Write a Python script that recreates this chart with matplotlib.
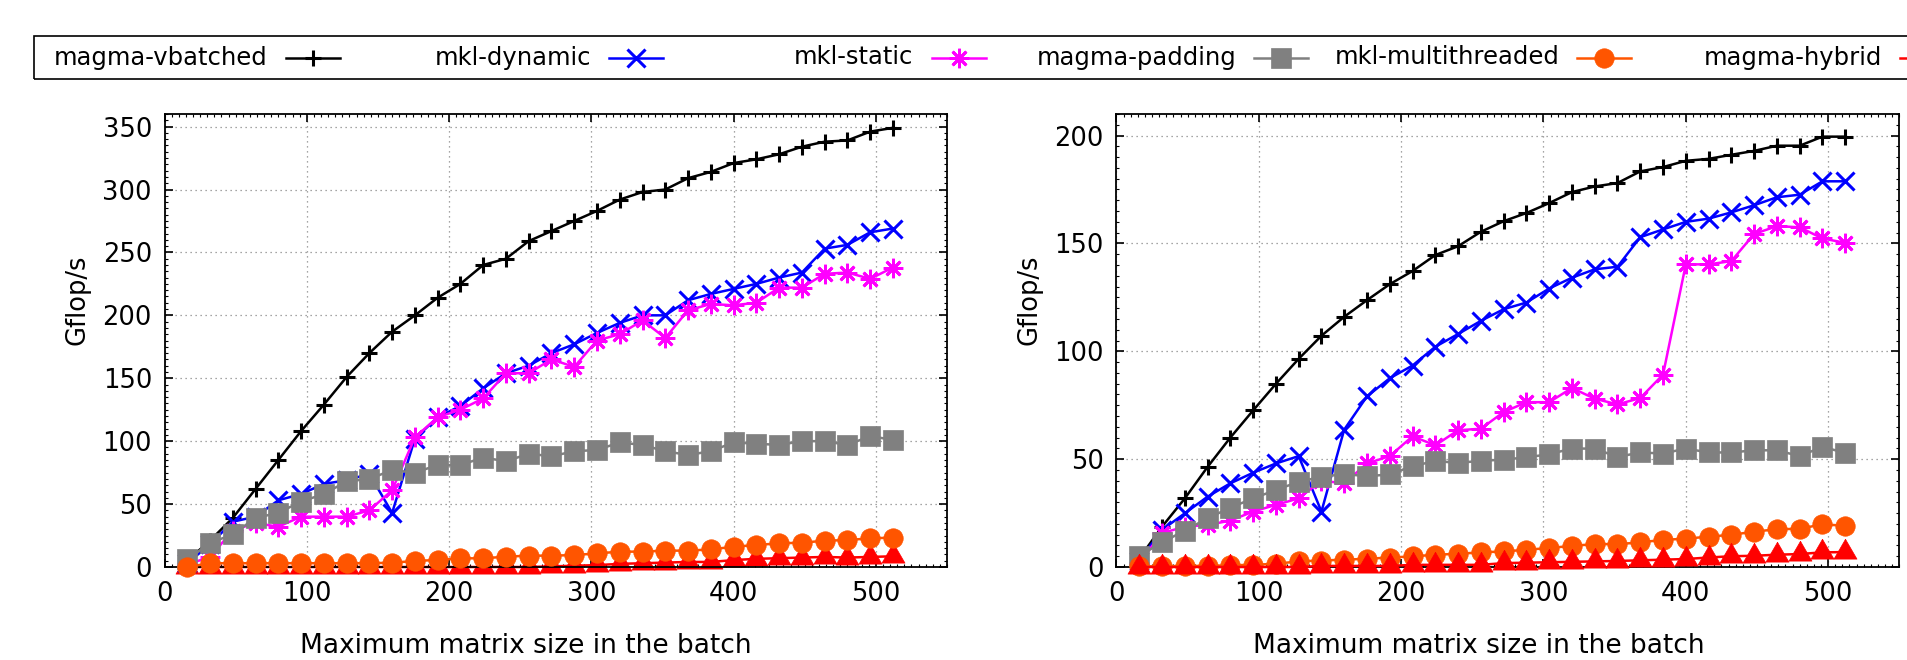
import matplotlib
matplotlib.use("Agg")
import matplotlib.pyplot as plt
from matplotlib.lines import Line2D
from matplotlib.patches import Rectangle
from matplotlib.ticker import MultipleLocator

plt.rcParams["font.family"] = ["DejaVu Sans"]

# batch max matrix size (x axis)
sizes = [16, 32, 48, 64, 80, 96, 112, 128, 144, 160, 176, 192, 208, 224, 240, 256,
         272, 288, 304, 320, 336, 352, 368, 384, 400, 416, 432, 448, 464, 480, 496, 512]

series_names = ["magma-vbatched", "mkl-dynamic", "mkl-static",
                "magma-padding", "mkl-multithreaded", "magma-hybrid"]

# left panel (Gflop/s)
left_vbatched = [5, 21, 39, 62, 85, 108, 129, 151, 170, 187, 200, 214, 225, 240, 245, 259,
                 267, 275, 283, 292, 298, 300, 309, 314, 321, 324, 328, 334, 338, 339, 346, 349]
left_dynamic = [3, 18, 36, 40, 53, 58, 66, 69, 74, 43, 102, 119, 128, 142, 154, 160,
                170, 177, 186, 194, 200, 200, 212, 217, 221, 225, 230, 234, 253, 256, 266, 269]
left_static = [2, 8, 29, 35, 32, 40, 40, 40, 45, 61, 103, 119, 125, 134, 154, 154,
               165, 159, 180, 185, 196, 182, 204, 209, 208, 210, 222, 222, 233, 234, 229, 238]
left_padding = [6, 19, 26, 39, 43, 52, 58, 68, 70, 77, 75, 81, 81, 87, 84, 90,
                88, 92, 93, 99, 97, 92, 89, 92, 99, 98, 97, 100, 100, 97, 104, 101]
left_multi = [0, 3, 3, 3, 3, 3, 3, 3, 3, 3.4, 4.8, 5.6, 6.9, 6.9, 8.2, 9,
              9, 9.5, 10.8, 12.2, 12.2, 13, 13, 14, 16.1, 17.5, 18.8, 19.3, 20.9, 21.4, 22.8, 23.3]
left_hybrid = [0, 0, 0, 0, 0, 0, 0, 0, 0, 0, 0, 0, 0, 0, 0, 0,
               0.5, 1, 1.5, 2.5, 3, 3.5, 4, 4, 5.5, 6.5, 7, 7.5, 8, 7.5, 8, 8.5]

# right panel (Gflop/s)
right_vbatched = [4, 18.7, 31.8, 46.4, 60, 72.6, 84.9, 96.5, 107.2, 116, 123.7, 131.1, 137.2, 144.6, 148.7, 155.4,
                  160.3, 164.1, 168.7, 173.8, 176.4, 178, 183.4, 185.4, 188.3, 189.2, 191.1, 192.9, 195.3, 195.3, 199.5, 199.5]
right_dynamic = [3, 17.2, 24.9, 32.6, 38.8, 43.7, 48, 51.4, 25.7, 63.7, 79.1, 87.5, 93.4, 102.1, 108, 114.1,
                 119.5, 122.6, 129.1, 134.1, 138, 139.2, 152.9, 156.5, 160, 161.5, 164.4, 167.7, 171.4, 172.6, 178.8, 178.8]
right_static = [2, 15.7, 18.7, 19.5, 21.5, 25.7, 28.8, 31.8, 40, 38.8, 48, 51.4, 60.6, 56.4, 63.4, 64.1,
                71.8, 76.4, 76.4, 83, 78, 75.4, 78.3, 89.2, 140.3, 140.3, 141.8, 154.4, 158, 157.5, 152.3, 150.3]
right_padding = [5.2, 11.4, 16.9, 22.6, 27.5, 31.8, 35.7, 39.5, 41.8, 43.1, 42.1, 42.9, 46.8, 49.1, 48.3, 49.2,
                 49.8, 50.8, 52.3, 54.9, 54.9, 51, 53.1, 52.6, 54.9, 53.1, 53.1, 54.1, 54.1, 51.4, 55.7, 52.9]
right_multi = [0.3, 0.3, 0.5, 0.5, 0.8, 1, 1.5, 2.6, 3, 3.4, 3.8, 4.4, 4.9, 5.7, 6.1, 6.8,
               7.2, 8, 8.8, 9.8, 10.6, 10.6, 11.4, 12.6, 13.1, 14.1, 14.9, 16.4, 17.5, 17.7, 19.8, 19.1]
right_hybrid = [0, 0, 0, 0, 0, 0, 0, 0, 0.5, 0.5, 0.5, 0.5, 1, 1, 1, 1,
                1.8, 2, 2.2, 2.4, 2.6, 2.8, 3.1, 3.4, 3.7, 4.4, 5, 5.2, 5.7, 6, 6.8, 6.9]

W, H = 1908, 660

# gnuplot-like triangle, centred on its centroid
tri = [(0, 1.0), (-0.87, -0.5), (0.87, -0.5), (0, 1.0)]

styles = [
    dict(color="black", marker="+", ms=12, mew=2.2),
    dict(color="#0000ff", marker="x", ms=13, mew=2.2),
    dict(color="#ff00ff", marker=(8, 2, 0), ms=14, mew=2.0),
    dict(color="#808080", marker="s", ms=14.5, mew=0.5),
    dict(color="#ff5500", marker="o", ms=14, mew=0.5),
    dict(color="#ff0000", marker=tri, ms=19, mew=0.5),
]


def fx(px):
    return px / W


def fy(py):
    return 1 - py / H


def draw_panel(ax, data, ymax, ystep, hybrid_on_top):
    for k, (vals, st) in enumerate(zip(data, styles)):
        z = 3 + k
        if k == 5 and not hybrid_on_top:
            z = 2.5
        ax.plot(sizes, vals, color=st["color"], lw=1.8, marker=st["marker"],
                ms=st["ms"], mew=st["mew"], mec=st["color"], mfc=st["color"],
                clip_on=False, zorder=z)

    ax.set_xlim(0, 550)
    ax.set_ylim(0, ymax)
    ax.xaxis.set_major_locator(MultipleLocator(100))
    ax.yaxis.set_major_locator(MultipleLocator(ystep))
    ax.xaxis.set_minor_locator(MultipleLocator(5))
    ax.yaxis.set_minor_locator(MultipleLocator(5))
    ax.tick_params(which="both", direction="in", top=True, right=True, width=1.2)
    ax.tick_params(which="major", length=5.5, labelsize=18.5)
    ax.tick_params(which="minor", length=2.2, width=0.8)
    ax.tick_params(axis="y", pad=9)
    ax.tick_params(axis="x", pad=10)
    ax.grid(True, which="major", color="#888888", linestyle=(0, (1, 3)), linewidth=0.9)
    ax.set_axisbelow(True)
    for sp in ax.spines.values():
        sp.set_linewidth(1.3)


fig = plt.figure(figsize=(W / 100, H / 100), dpi=100)

ax1 = fig.add_axes([fx(164.5), fy(567), fx(947) - fx(164.5), fy(114) - fy(567)])
ax2 = fig.add_axes([fx(1116.5), fy(567), fx(1899.3) - fx(1116.5), fy(114) - fy(567)])

draw_panel(ax1, [left_vbatched, left_dynamic, left_static, left_padding, left_multi, left_hybrid],
           360, 50, hybrid_on_top=False)
draw_panel(ax2, [right_vbatched, right_dynamic, right_static, right_padding, right_multi, right_hybrid],
           210, 50, hybrid_on_top=True)

# axis titles
fig.text(fx(77.5), fy(300), "Gflop/s", rotation=90, ha="center", va="center", fontsize=18.5)
fig.text(fx(1030), fy(300), "Gflop/s", rotation=90, ha="center", va="center", fontsize=18.5)
fig.text(fx(526), fy(659), "Maximum matrix size in the batch", ha="center", va="bottom", fontsize=19)
fig.text(fx(1479), fy(659), "Maximum matrix size in the batch", ha="center", va="bottom", fontsize=19)

# key box along the top, gnuplot style (text then sample)
fig.add_artist(Rectangle((fx(34), fy(79)), fx(1920) - fx(34), fy(36) - fy(79),
                         transform=fig.transFigure, fill=False, edgecolor="black", lw=1.2))
for i, (name, st) in enumerate(zip(series_names, styles)):
    right_edge = 268 + 322.8 * i
    cx = right_edge + 45
    fig.text(fx(right_edge), fy(57.5), name, ha="right", va="center", fontsize=17.5)
    fig.add_artist(Line2D([fx(cx - 27), fx(cx + 27)], [fy(57.5), fy(57.5)],
                          transform=fig.transFigure, color=st["color"], lw=1.8))
    fig.add_artist(Line2D([fx(cx)], [fy(57.5)], transform=fig.transFigure,
                          color=st["color"], marker=st["marker"], ms=st["ms"], mew=st["mew"],
                          mec=st["color"], mfc=st["color"], linestyle="none"))

fig.savefig("out.png", dpi=100)
